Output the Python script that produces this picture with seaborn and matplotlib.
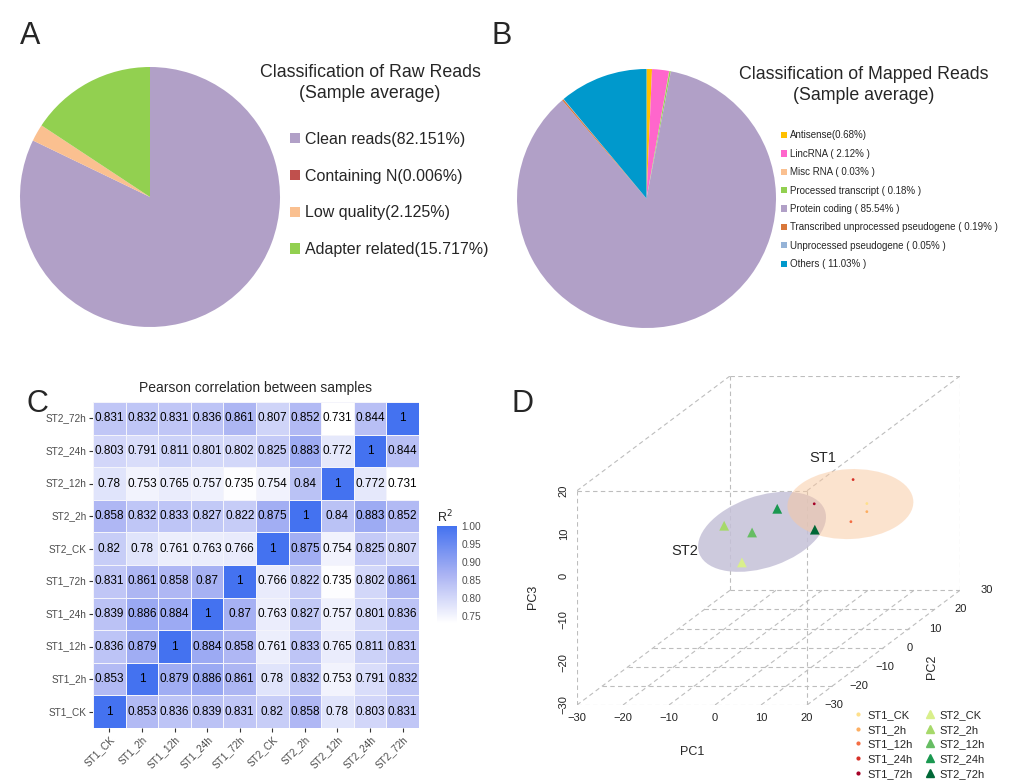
import numpy as np
import pandas as pd
import matplotlib
matplotlib.use("Agg")
import matplotlib.pyplot as plt
from matplotlib.colors import LinearSegmentedColormap
from matplotlib.patches import Ellipse
from matplotlib.lines import Line2D
import seaborn as sns

# ---------------- data ----------------
# A: raw reads
raw_labels = ["Clean reads(82.151%)", "Containing N(0.006%)",
              "Low quality(2.125%)", "Adapter related(15.717%)"]
raw_values = [82.151, 0.006, 2.125, 15.717]
raw_colors = ["#b1a0c7", "#c0504d", "#fac090", "#92d050"]

# B: mapped reads
map_labels = ["Antisense(0.68%)", "LincRNA ( 2.12% )", "Misc RNA ( 0.03% )",
              "Processed transcript ( 0.18% )", "Protein coding ( 85.54% )",
              "Transcribed unprocessed pseudogene ( 0.19% )",
              "Unprocessed pseudogene ( 0.05% )", "Others ( 11.03% )"]
map_values = [0.68, 2.12, 0.03, 0.18, 85.54, 0.19, 0.05, 11.03]
map_colors = ["#ffc000", "#ff66cc", "#fac090", "#92d050", "#b1a0c7",
              "#d9773a", "#95b3d7", "#0099cc"]

# C: pearson correlation
samples = ["ST1_CK", "ST1_2h", "ST1_12h", "ST1_24h", "ST1_72h",
           "ST2_CK", "ST2_2h", "ST2_12h", "ST2_24h", "ST2_72h"]
corr = [
    [1, 0.853, 0.836, 0.839, 0.831, 0.82, 0.858, 0.78, 0.803, 0.831],
    [0.853, 1, 0.879, 0.886, 0.861, 0.78, 0.832, 0.753, 0.791, 0.832],
    [0.836, 0.879, 1, 0.884, 0.858, 0.761, 0.833, 0.765, 0.811, 0.831],
    [0.839, 0.886, 0.884, 1, 0.87, 0.763, 0.827, 0.757, 0.801, 0.836],
    [0.831, 0.861, 0.858, 0.87, 1, 0.766, 0.822, 0.735, 0.802, 0.861],
    [0.82, 0.78, 0.761, 0.763, 0.766, 1, 0.875, 0.754, 0.825, 0.807],
    [0.858, 0.832, 0.833, 0.827, 0.822, 0.875, 1, 0.84, 0.883, 0.852],
    [0.78, 0.753, 0.765, 0.757, 0.735, 0.754, 0.84, 1, 0.772, 0.731],
    [0.803, 0.791, 0.811, 0.801, 0.802, 0.825, 0.883, 0.772, 1, 0.844],
    [0.831, 0.832, 0.831, 0.836, 0.861, 0.807, 0.852, 0.731, 0.844, 1],
]

# D: PCA
groups = ["ST1"] * 5 + ["ST2"] * 5
pc1 = [5.3, 6.4, 4.6, 1.2, -0.6, 0.3, -9.1, -5.8, -3.1, 2.3]
pc2 = [20, 18, 15, 22, 10, -20, -10, -5, 0, 5]
pc3 = [-5.3, -6.3, -7.3, -0.6, -0.9, -1.2, 2.9, -0.9, 2.4, -4.7]
pca_colors = ["#fee08b", "#fdae61", "#f46d43", "#d73027", "#a50026",
              "#d9ef8b", "#a6d96a", "#66bd63", "#1a9850", "#006837"]
pc1_ticks = [-30, -20, -10, 0, 10, 20]
pc2_ticks = [-30, -20, -10, 0, 10, 20, 30]
pc3_ticks = [-30, -20, -10, 0, 10, 20]

# ---------------- style ----------------
sns.set_style("white")
plt.rcParams["font.family"] = ["Liberation Sans", "DejaVu Sans"]

W, H = 1018, 784
fig = plt.figure(figsize=(W / 100, H / 100), dpi=100)


def add_ax(left, top, w, h):
    return fig.add_axes([left / W, 1 - (top + h) / H, w / W, h / H])


# ---------------- A ----------------
axA = add_ax(20, 67, 260, 260)
wedgesA, _ = axA.pie(raw_values, colors=raw_colors, startangle=90,
                     counterclock=False, wedgeprops=dict(linewidth=0))
axA.set_xlim(-1, 1)
axA.set_ylim(-1, 1)
axA.set_aspect("equal")
fig.text(370 / W, 1 - 83 / H, "Classification of Raw Reads\n(Sample average)",
         ha="center", va="center", fontsize=12.8, linespacing=1.35)
axA.legend(wedgesA, raw_labels, loc="upper left",
           bbox_to_anchor=(290 / W, 1 - 132 / H), bbox_transform=fig.transFigure,
           frameon=False, fontsize=11.5, handlelength=0.6, handleheight=0.6,
           handletextpad=0.35, labelspacing=1.36, borderpad=0, borderaxespad=0)

# ---------------- B ----------------
axB = add_ax(517, 69, 259, 259)
wedgesB, _ = axB.pie(map_values, colors=map_colors, startangle=90,
                     counterclock=False, wedgeprops=dict(linewidth=0))
axB.set_xlim(-1, 1)
axB.set_ylim(-1, 1)
axB.set_aspect("equal")
fig.text(864 / W, 1 - 85 / H, "Classification of Mapped Reads\n(Sample average)",
         ha="center", va="center", fontsize=12.8, linespacing=1.35)
axB.legend(wedgesB, map_labels, loc="upper left",
           bbox_to_anchor=(781 / W, 1 - 130.5 / H), bbox_transform=fig.transFigure,
           frameon=False, fontsize=7, handlelength=0.6, handleheight=0.6,
           handletextpad=0.3, labelspacing=0.86, borderpad=0, borderaxespad=0)

# ---------------- C ----------------
axC = add_ax(93, 402, 326, 326)
cax = add_ax(437, 526, 20, 97)
corr_df = pd.DataFrame(corr, index=samples, columns=samples).iloc[::-1]
cmap = LinearSegmentedColormap.from_list(
    "wb", [(0, "#ffffff"), (0.5, "#aab3f3"), (1, "#4472f0")])
sns.heatmap(corr_df, ax=axC, cbar_ax=cax, cmap=cmap, vmin=0.731, vmax=1.0,
            annot=True, fmt="g", annot_kws={"size": 8.5, "color": "black"},
            linewidths=0.4, linecolor="#f4f4fb", square=True)
axC.set_title("Pearson correlation between samples", fontsize=10, pad=7)
axC.set_xlabel("")
axC.set_ylabel("")
axC.tick_params(bottom=True, left=True, length=3, width=0.8, color="#333333",
                labelsize=7.2, labelcolor="#4d4d4d", pad=1.5)
plt.setp(axC.get_xticklabels(), rotation=45, ha="right", rotation_mode="anchor")
plt.setp(axC.get_yticklabels(), rotation=0)
cbar = axC.collections[0].colorbar
cbar.outline.set_visible(False)
cbar.set_ticks([0.75, 0.80, 0.85, 0.90, 0.95, 1.00])
cbar.set_ticklabels(["0.75", "0.80", "0.85", "0.90", "0.95", "1.00"])
cax.tick_params(left=True, right=True, direction="in", length=3, color="white",
                width=0.8, labelsize=7.3, labelcolor="#4d4d4d", pad=3)
cax.set_title("R$^2$", fontsize=9, loc="left", pad=3)

# ---------------- D ----------------
KX, KZ = 0.554, 0.446   # oblique shift per PC2 unit
Y0 = -30


def proj(x, y, z):
    y = np.asarray(y, dtype=float)
    return np.asarray(x, dtype=float) + KX * (y - Y0), np.asarray(z, dtype=float) + KZ * (y - Y0)


axD = add_ax(577, 376, 383, 329)
xmin, xmax = pc1_ticks[0], pc1_ticks[-1]
ymin, ymax = pc2_ticks[0], pc2_ticks[-1]
zmin, zmax = pc3_ticks[0], pc3_ticks[-1]
box_kw = dict(color="#bdbdbd", lw=0.8, ls=(0, (4, 3)), zorder=1)


def seg(p, q):
    sx, sy = proj([p[0], q[0]], [p[1], q[1]], [p[2], q[2]])
    axD.plot(sx, sy, **box_kw)


# floor grid
for xv in pc1_ticks:
    seg((xv, ymin, zmin), (xv, ymax, zmin))
for yv in pc2_ticks:
    seg((xmin, yv, zmin), (xmax, yv, zmin))
# front face and back face
for yv in (ymin, ymax):
    seg((xmin, yv, zmin), (xmin, yv, zmax))
    seg((xmax, yv, zmin), (xmax, yv, zmax))
    seg((xmin, yv, zmax), (xmax, yv, zmax))
seg((xmin, ymin, zmax), (xmin, ymax, zmax))
seg((xmax, ymin, zmax), (xmax, ymax, zmax))

pca = pd.DataFrame({"sample": samples, "group": groups,
                    "PC1": pc1, "PC2": pc2, "PC3": pc3})
pca["sx"], pca["sy"] = proj(pca["PC1"], pca["PC2"], pca["PC3"])

# group ellipses around the projected group means
ell_style = {"ST2": dict(w=29.1, h=16.6, angle=21, fc="#c5c1d8", alpha=0.85),
             "ST1": dict(w=27.4, h=16.3, angle=3, fc="#f9c89f", alpha=0.5)}
for g in ["ST2", "ST1"]:
    sub = pca[pca["group"] == g]
    st = ell_style[g]
    axD.add_patch(Ellipse((sub["sx"].mean(), sub["sy"].mean()), st["w"], st["h"],
                          angle=st["angle"], fc=st["fc"], ec="none",
                          alpha=st["alpha"], zorder=2))

palette = dict(zip(samples, pca_colors))
sns.scatterplot(data=pca, x="sx", y="sy", hue="sample", palette=palette,
                style="group", markers={"ST1": "o", "ST2": "^"},
                size="group", sizes={"ST1": 4, "ST2": 50},
                linewidth=0, legend=False, ax=axD, zorder=3)

axD.text(23.5, 27.7, "ST1", fontsize=10.5, ha="center", va="center")
axD.text(-6.5, 6.0, "ST2", fontsize=10.5, ha="center", va="center")

axD.set_xlim(xmin, xmax + KX * (ymax - ymin))
axD.set_ylim(zmin, zmax + KZ * (ymax - ymin))
axD.set_xticks(pc1_ticks)
axD.set_yticks(pc3_ticks)
axD.set_xticklabels([f"{t:d}".replace("-", "\u2212") for t in pc1_ticks])
axD.set_yticklabels([f"{t:d}".replace("-", "\u2212") for t in pc3_ticks],
                    rotation=90, va="center")
axD.tick_params(length=0, labelsize=8, pad=6, labelcolor="#222222")
for sp in axD.spines.values():
    sp.set_visible(False)
axD.set_xlabel("PC1", fontsize=9)
axD.set_ylabel("PC3", fontsize=9)
axD.xaxis.set_label_coords(0.30, -0.125)
axD.yaxis.set_label_coords(-0.10, 0.328)
for yv in pc2_ticks:
    sx, sy = proj(xmax, yv, zmin)
    axD.annotate(f"{yv:d}".replace("-", "\u2212"), (sx, sy), xytext=(19, 0),
                 textcoords="offset points", ha="center", va="center",
                 fontsize=8, color="#222222", annotation_clip=False)
sx, sy = proj(xmax, 0, zmin)
axD.annotate("PC2", (sx, sy), xytext=(35, -14), textcoords="offset points",
             rotation=90, ha="center", va="center", fontsize=9,
             annotation_clip=False)

handles = []
for s, g, c in zip(samples, groups, pca_colors):
    if g == "ST1":
        handles.append(Line2D([], [], ls="", marker="o", ms=2, mfc=c, mec=c, label=s))
    else:
        handles.append(Line2D([], [], ls="", marker="^", ms=6, mfc=c, mec=c, label=s))
axD.legend(handles=handles, ncol=2, loc="upper left",
           bbox_to_anchor=(852 / W, 1 - 710 / H), bbox_transform=fig.transFigure,
           frameon=False, fontsize=8, handlelength=1.0, handletextpad=0.4,
           labelspacing=0.42, columnspacing=1.0, borderpad=0, borderaxespad=0)

# ---------------- panel letters ----------------
for letter, (px, py) in zip("ABCD", [(30, 36), (502, 36), (37, 404), (523, 404)]):
    fig.text(px / W, 1 - py / H, letter, fontsize=22, ha="center", va="center")

fig.savefig("out.png", dpi=100)
